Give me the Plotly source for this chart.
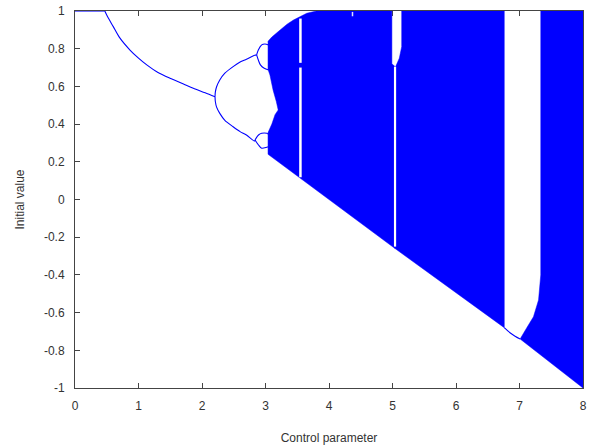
import plotly.graph_objects as go

# ---- values ----
# period-1 branch (flat part, then decreasing curve)
p1_flat_x = [0.0, 0.47]
p1_flat_y = [1.0, 1.0]
p1_x = [0.47, 0.49, 0.52, 0.603, 0.70, 0.866, 1.0, 1.13, 1.3, 1.496, 1.7, 1.863, 2.05, 2.205]
p1_y = [1.0, 0.985, 0.965, 0.917, 0.86, 0.793, 0.75, 0.714, 0.675, 0.643, 0.614, 0.590, 0.566, 0.545]

# period-2 branches
p2u_x = [2.205, 2.21, 2.23, 2.28, 2.36, 2.49, 2.6, 2.70, 2.83, 2.86]
p2u_y = [0.545, 0.57, 0.598, 0.634, 0.67, 0.705, 0.729, 0.744, 0.765, 0.767]
p2l_x = [2.205, 2.21, 2.23, 2.28, 2.36, 2.49, 2.6, 2.70, 2.83, 2.835]
p2l_y = [0.545, 0.52, 0.49, 0.457, 0.42, 0.386, 0.36, 0.342, 0.31, 0.316]

# period-4 bubbles
b_up_top_x = [2.86, 2.887, 2.94, 2.99, 3.05]
b_up_top_y = [0.767, 0.793, 0.82, 0.825, 0.82]
b_up_bot_x = [2.86, 2.887, 2.92, 2.98, 3.05]
b_up_bot_y = [0.767, 0.74, 0.714, 0.696, 0.687]
b_lo_top_x = [2.835, 2.89, 2.94, 3.02, 3.05]
b_lo_top_y = [0.316, 0.342, 0.351, 0.351, 0.345]
b_lo_bot_x = [2.835, 2.89, 2.94, 3.02, 3.05]
b_lo_bot_y = [0.316, 0.289, 0.272, 0.277, 0.28]

# chaotic band: upper envelope
env_x = [3.04, 3.10, 3.23, 3.34, 3.44, 3.55, 3.65, 3.80]
env_y = [0.84, 0.862, 0.899, 0.93, 0.952, 0.97, 0.988, 1.0]
# inner white hole edge (from lower band back up to upper band)
hole_x = [3.04, 3.10, 3.15, 3.20, 3.17, 3.12, 3.07, 3.04]
hole_y = [0.355, 0.40, 0.45, 0.475, 0.52, 0.58, 0.66, 0.69]
# lower boundary readings
low_x = [3.04, 3.55, 5.04, 6.76, 7.01, 8.0]
low_y = [0.24, 0.115, -0.26, -0.68, -0.74, -1.0]

# window near 5
w5_left_x, w5_left_y = 4.99, 0.72
w5_right_x = [5.05, 5.107, 5.145]
w5_right_y = [0.705, 0.749, 0.811]
w5_line_x = 5.04

# window near 3.55
w35_x = 3.55
w35_seg_y = [[0.96, 0.725], [0.70, 0.118]]

# tiny notch near 4.37
notch_x, notch_y = 4.37, [0.995, 0.972]

# big window 6.76 .. 7.335
bw_left = 6.76
bw_right = 7.335
bw_right_curve_x = [7.335, 7.32, 7.30, 7.22, 7.11, 7.01]
bw_right_curve_y = [-0.40, -0.45, -0.533, -0.622, -0.683, -0.74]
bw_bottom_x = [6.76, 6.85, 6.93, 7.01]
bw_bottom_y = [-0.68, -0.707, -0.725, -0.74]

x_ticks = [0, 1, 2, 3, 4, 5, 6, 7, 8]
y_ticks = [-1, -0.8, -0.6, -0.4, -0.2, 0, 0.2, 0.4, 0.6, 0.8, 1]
y_ticktext = ["-1", "-0.8", "-0.6", "-0.4", "-0.2", "0", "0.2", "0.4", "0.6", "0.8", "1"]

BLUE = "#0000ff"
fig = go.Figure()

def poly(xs, ys):
    fig.add_trace(go.Scatter(x=xs + [xs[0]], y=ys + [ys[0]], mode="lines", fill="toself",
                             fillcolor=BLUE, line=dict(color=BLUE, width=0.5),
                             hoverinfo="skip", showlegend=False))

def curve(xs, ys, color=BLUE, width=1.1, shape="linear"):
    fig.add_trace(go.Scatter(x=xs, y=ys, mode="lines",
                             line=dict(color=color, width=width, shape=shape, smoothing=0.8),
                             hoverinfo="skip", showlegend=False))

# polygon 1: from band start to window at 5
px = list(env_x) + [w5_left_x, w5_left_x, w5_line_x, w5_line_x, low_x[1], low_x[0]] + hole_x
py = list(env_y) + [1.0, w5_left_y, w5_right_y[0], low_y[2], low_y[1], low_y[0]] + hole_y
poly(px, py)

# polygon 2: window at 5 to big window
px2 = [w5_line_x] + w5_right_x + [w5_right_x[-1], bw_left, bw_left, low_x[2]]
py2 = [w5_right_y[0]] + w5_right_y + [1.0, 1.0, low_y[3], low_y[2]]
poly(px2, py2)

# polygon 3: right of big window
px3 = [bw_right, 8.0, low_x[5]] + bw_right_curve_x[::-1]
py3 = [1.0, 1.0, low_y[5]] + bw_right_curve_y[::-1]
poly(px3, py3)

# white windows
for seg in w35_seg_y:
    curve([w35_x, w35_x], seg, color="white", width=2.5)
curve([w5_line_x, w5_line_x], [w5_right_y[0], low_y[2] + 0.01], color="white", width=2.2)
curve([notch_x, notch_x], notch_y, color="#dcdcff", width=1.5)

# periodic branches
curve(p1_flat_x, p1_flat_y)
curve(p1_x, p1_y, shape="spline")
curve(p2u_x, p2u_y, shape="spline")
curve(p2l_x, p2l_y, shape="spline")
curve(b_up_top_x, b_up_top_y, shape="spline")
curve(b_up_bot_x, b_up_bot_y, shape="spline")
curve(b_lo_top_x, b_lo_top_y, shape="spline")
curve(b_lo_bot_x, b_lo_bot_y, shape="spline")
curve(bw_bottom_x, bw_bottom_y, shape="spline")

FONT = dict(family="Liberation Sans, Arial", size=12, color="#333333")
axis_common = dict(showgrid=False, zeroline=False, showline=True, linecolor="#444444", linewidth=1,
                   mirror="ticks", ticks="inside", ticklen=5, tickcolor="#444444",
                   tickfont=FONT, layer="below traces", automargin=False,
                   ticklabeloverflow="allow")

fig.update_layout(
    width=590, height=445,
    margin=dict(l=75, r=7, t=11, b=57),
    paper_bgcolor="white", plot_bgcolor="white",
    xaxis=dict(range=[0, 8], tickvals=x_ticks, ticklabelstandoff=7,
               title=dict(text="Control parameter", standoff=22, font=FONT), **axis_common),
    yaxis=dict(range=[-1, 1], tickvals=y_ticks, ticktext=y_ticktext, ticklabelstandoff=7,
               title=dict(text="Initial value", standoff=16, font=FONT), **axis_common),
)

# remove the default page margin so the figure fills the 590x445 window exactly
fig.write_html("out.html", config={"displayModeBar": False},
               post_script="document.body.style.margin='0';")
